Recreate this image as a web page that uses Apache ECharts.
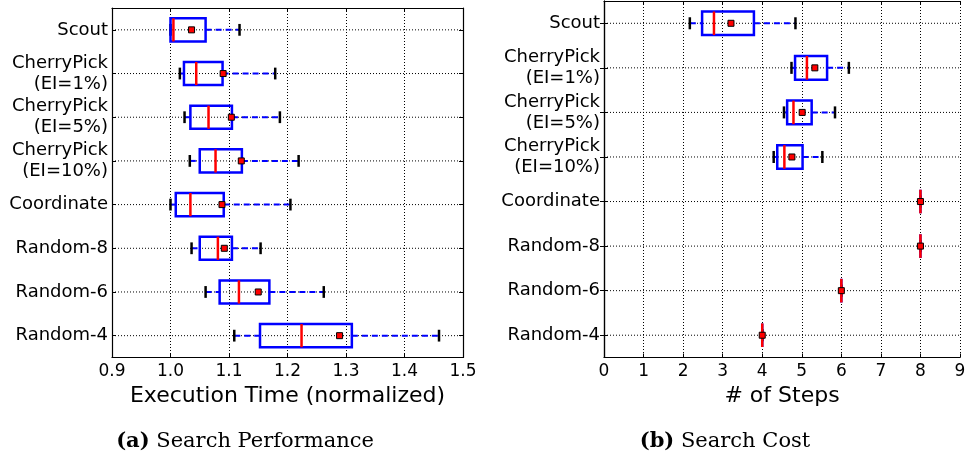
<!DOCTYPE html>
<html>
<head>
<meta charset="utf-8">
<script src="https://cdn.jsdelivr.net/npm/echarts@6/dist/echarts.min.js"></script>
<style>
  html, body { margin: 0; padding: 0; background: #fff; }
  #chart { width: 969px; height: 457px; }
</style>
</head>
<body>
<div id="chart"></div>
<script>
// Search strategies, top to bottom
const categories = ['Scout', 'CherryPick\n(EI=1%)', 'CherryPick\n(EI=5%)', 'CherryPick\n(EI=10%)',
  'Coordinate', 'Random-8', 'Random-6', 'Random-4'];

// (a) Execution time, normalized to the best configuration
const timeLow    = [1.000, 1.016, 1.024, 1.033, 1.000, 1.036, 1.060, 1.109];
const timeQ1     = [1.000, 1.023, 1.034, 1.050, 1.009, 1.050, 1.084, 1.153];
const timeMedian = [1.005, 1.044, 1.065, 1.077, 1.034, 1.081, 1.117, 1.224];
const timeQ3     = [1.060, 1.089, 1.105, 1.122, 1.091, 1.105, 1.169, 1.310];
const timeHigh   = [1.118, 1.179, 1.187, 1.219, 1.205, 1.154, 1.262, 1.459];
const timeMean   = [1.036, 1.090, 1.104, 1.121, 1.088, 1.092, 1.150, 1.289];

// (b) Number of search steps
const stepsLow    = [2.17, 4.74, 4.55, 4.29, 8, 8, 6, 4];
const stepsQ1     = [2.48, 4.83, 4.63, 4.38, 8, 8, 6, 4];
const stepsMedian = [2.78, 5.13, 4.79, 4.56, 8, 8, 6, 4];
const stepsQ3     = [3.79, 5.64, 5.25, 5.02, 8, 8, 6, 4];
const stepsHigh   = [4.84, 6.19, 5.84, 5.52, 8, 8, 6, 4];
const stepsMean   = [3.21, 5.33, 5.01, 4.75, 8, 8, 6, 4];

const timeTicks = ['0.9', '1.0', '1.1', '1.2', '1.3', '1.4', '1.5'];
const stepTicks = ['0', '1', '2', '3', '4', '5', '6', '7', '8', '9'];

const SANS = 'DejaVu Sans';

function rows(low, q1, med, q3, high, mean) {
  return categories.map((_, i) => [i, low[i], q1[i], med[i], q3[i], high[i], mean[i]]);
}

function makeRender(xMin, xMax) {
  return function (params, api) {
    const cat = api.value(0);
    const c = v => api.coord([v, cat]);
    const band = api.size([0, 1])[1];
    const boxH = band * 0.53;
    const capH = band * 0.27;
    const pLow = c(api.value(1)), pQ1 = c(api.value(2)), pMed = c(api.value(3));
    const pQ3 = c(api.value(4)), pHigh = c(api.value(5)), pMean = c(api.value(6));
    const g0 = api.coord([xMin, cat]), g1 = api.coord([xMax, cat]);
    const y = pMed[1];
    const blue = '#0000ff', red = '#ff0000';
    const children = [];
    // horizontal grid line through the category
    children.push({ type: 'line', shape: { x1: g0[0], y1: y, x2: g1[0], y2: y },
      style: { stroke: '#000', lineWidth: 1, lineDash: [1, 2] }, silent: true });
    // whiskers
    children.push({ type: 'line', shape: { x1: pLow[0], y1: y, x2: pQ1[0], y2: y },
      style: { stroke: blue, lineWidth: 2, lineDash: [6, 4] } });
    children.push({ type: 'line', shape: { x1: pQ3[0], y1: y, x2: pHigh[0], y2: y },
      style: { stroke: blue, lineWidth: 2, lineDash: [6, 4] } });
    // caps
    [pLow, pHigh].forEach(p => children.push({ type: 'line',
      shape: { x1: p[0], y1: y - capH / 2, x2: p[0], y2: y + capH / 2 },
      style: { stroke: '#000', lineWidth: 2.5 } }));
    // box
    children.push({ type: 'rect',
      shape: { x: pQ1[0], y: y - boxH / 2, width: pQ3[0] - pQ1[0], height: boxH },
      style: { fill: 'none', stroke: blue, lineWidth: 2.5 } });
    // median
    children.push({ type: 'line', shape: { x1: pMed[0], y1: y - boxH / 2, x2: pMed[0], y2: y + boxH / 2 },
      style: { stroke: red, lineWidth: 2.5 } });
    // mean
    children.push({ type: 'rect', shape: { x: pMean[0] - 3, y: y - 3, width: 6, height: 6 },
      style: { fill: red, stroke: '#000', lineWidth: 1 } });
    return { type: 'group', children };
  };
}

function valueAxis(gridIndex, min, max, interval, ticks, name, pos, show) {
  return {
    type: 'value', gridIndex, min, max, interval, position: pos,
    name: show ? name : '', nameLocation: 'middle', nameGap: 26,
    nameTextStyle: { fontFamily: SANS, fontSize: 22, color: '#000' },
    axisLine: { show: true, onZero: false, lineStyle: { color: '#000', width: 1.2 } },
    axisTick: { show: true, inside: true, length: 4, lineStyle: { color: '#000' } },
    axisLabel: { show: show, margin: 6, fontFamily: SANS, fontSize: 17, color: '#000',
      formatter: v => ticks[Math.round((v - min) / interval)] },
    splitLine: { show: show, lineStyle: { color: '#000', type: [1, 2], width: 1 } }
  };
}

function catAxis(gridIndex, pos, show) {
  return {
    type: 'category', gridIndex, data: categories, inverse: true, position: pos,
    axisLine: { show: true, lineStyle: { color: '#000', width: 1.2 } },
    axisTick: { show: true, inside: true, alignWithLabel: true, length: 4, lineStyle: { color: '#000' } },
    axisLabel: { show: show, margin: 4, fontFamily: SANS, fontSize: 18, lineHeight: 21, color: '#000', align: 'right' },
    splitLine: { show: false }
  };
}

const captionStyle = {
  fontFamily: 'DejaVu Serif', fontSize: 21, fontWeight: 'normal', color: '#000',
  rich: { b: { fontFamily: 'DejaVu Serif', fontSize: 21, fontWeight: 'bold', color: '#000' } }
};

const chart = echarts.init(document.getElementById('chart'), null, { renderer: 'canvas' });
chart.setOption({
  animation: false,
  backgroundColor: '#fff',
  title: [
    { text: '{b|(a)} Search Performance', left: 240, top: 426, textAlign: 'center', textStyle: captionStyle },
    { text: '{b|(b)} Search Cost', left: 720, top: 426, textAlign: 'center', textStyle: captionStyle }
  ],
  grid: [
    { left: 112, top: 8, width: 351, height: 349.5, show: false },
    { left: 604, top: 1, width: 356, height: 356.5, show: false }
  ],
  xAxis: [
    valueAxis(0, 0.9, 1.5, 0.1, timeTicks, 'Execution Time (normalized)', 'bottom', true),
    valueAxis(0, 0.9, 1.5, 0.1, timeTicks, '', 'top', false),
    valueAxis(1, 0, 9, 1, stepTicks, '# of Steps', 'bottom', true),
    valueAxis(1, 0, 9, 1, stepTicks, '', 'top', false)
  ],
  yAxis: [
    catAxis(0, 'left', true),
    catAxis(0, 'right', false),
    catAxis(1, 'left', true),
    catAxis(1, 'right', false)
  ],
  series: [
    { type: 'custom', xAxisIndex: 0, yAxisIndex: 0,
      data: rows(timeLow, timeQ1, timeMedian, timeQ3, timeHigh, timeMean),
      encode: { x: [1, 2, 3, 4, 5, 6], y: 0 },
      renderItem: makeRender(0.9, 1.5) },
    { type: 'custom', xAxisIndex: 2, yAxisIndex: 2,
      data: rows(stepsLow, stepsQ1, stepsMedian, stepsQ3, stepsHigh, stepsMean),
      encode: { x: [1, 2, 3, 4, 5, 6], y: 0 },
      renderItem: makeRender(0, 9) }
  ]
});
</script>
</body>
</html>
